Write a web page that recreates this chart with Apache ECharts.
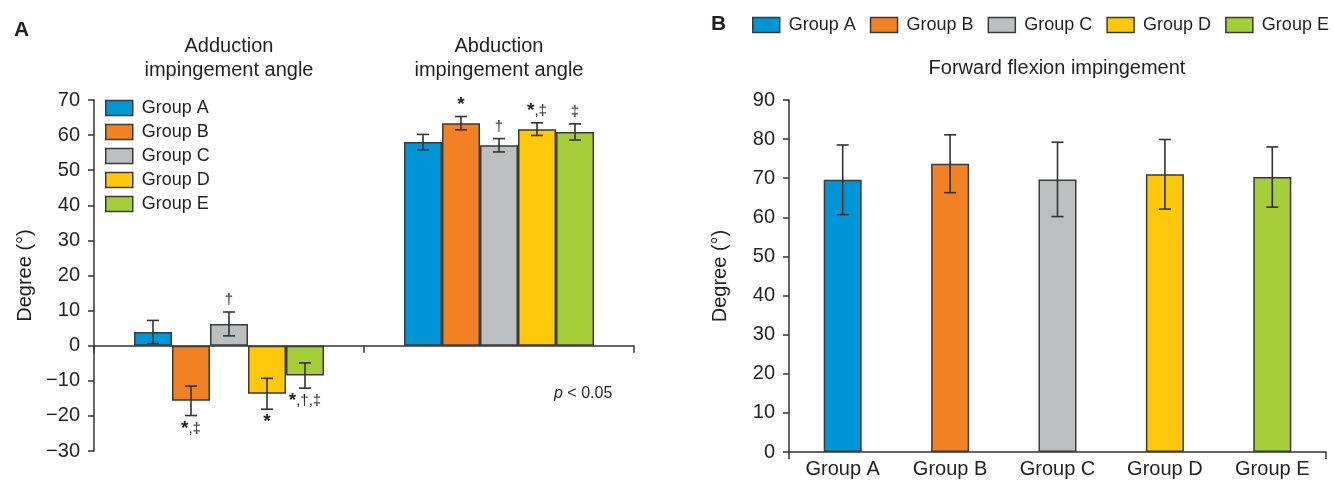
<!DOCTYPE html>
<html><head><meta charset="utf-8">
<script src="https://cdn.jsdelivr.net/npm/echarts@6/dist/echarts.min.js"></script>
<style>html,body{margin:0;padding:0;background:#fff}#c{width:1333px;height:484px}</style>
</head><body><div id="c"></div>
<script>
// ---- data ----
const groups = ['Group A', 'Group B', 'Group C', 'Group D', 'Group E'];
const anglesA = ['Adduction\nimpingement angle', 'Abduction\nimpingement angle'];
const adductionMean = [3.9, -15.7, 6.2, -13.7, -8.5];
const adductionSD = [3.3, 4.2, 3.4, 4.4, 3.6];
const adductionSig = ['', '*,\u2021', '\u2020', '*', '*,\u2020,\u2021'];
const abductionMean = [58.0, 63.4, 57.1, 61.7, 60.9];
const abductionSD = [2.2, 1.9, 1.9, 1.8, 2.3];
const abductionSig = ['', '*', '\u2020', '*,\u2021', '\u2021'];
const flexionMean = [69.6, 73.7, 69.7, 71.0, 70.3];
const flexionSD = [8.9, 7.4, 9.5, 8.9, 7.7];
const yRangeA = { min: -30, max: 70, interval: 10 };
const yRangeB = { min: 0, max: 90, interval: 10 };

// ---- styles ----
const colors = ['#0096D6', '#F28124', '#BCBEC0', '#FFC90B', '#A6CE39'];
const FONT = 'Liberation Sans, Arial, sans-serif';
const TXT = '#231F20';
const LINE = '#333333';
const BAR_W = 38;
const CAP = 12;

const chart = echarts.init(document.getElementById('c'), null, { renderer: 'canvas' });

// error-bar data for panel A: [categoryIndex, groupIndex, mean, sd]
const errAData = [];
const errASig = [];
groups.forEach((g, i) => {
  errAData.push([0, i, adductionMean[i], adductionSD[i]]); errASig.push(adductionSig[i]);
  errAData.push([1, i, abductionMean[i], abductionSD[i]]); errASig.push(abductionSig[i]);
});
const errBData = groups.map((g, i) => [i, flexionMean[i], flexionSD[i]]);

function errorShape(x, yTop, yBot) {
  return [
    { type: 'line', shape: { x1: x, y1: yTop, x2: x, y2: yBot }, style: { stroke: LINE, lineWidth: 1.6 } },
    { type: 'line', shape: { x1: x - CAP / 2, y1: yTop, x2: x + CAP / 2, y2: yTop }, style: { stroke: LINE, lineWidth: 1.6 } },
    { type: 'line', shape: { x1: x - CAP / 2, y1: yBot, x2: x + CAP / 2, y2: yBot }, style: { stroke: LINE, lineWidth: 1.6 } }
  ];
}

function richSig(s) {
  return s.split('').map(ch => ch === '*' ? '{a|*}' : '{d|' + ch + '}').join('');
}

function renderErrA(params, api) {
  const cat = api.value(0), g = api.value(1), m = api.value(2), sd = api.value(3);
  const top = api.coord([cat, m + sd]);
  const bot = api.coord([cat, m - sd]);
  const x = top[0] + (g - (groups.length - 1) / 2) * BAR_W;
  const children = errorShape(x, top[1], bot[1]);
  const sig = errASig[params.dataIndex];
  if (sig) {
    const up = m >= 0;
    children.push({
      type: 'text', x: x, y: up ? top[1] - 3 : bot[1] + 4,
      style: {
        text: richSig(sig), fill: TXT, fontFamily: FONT, align: 'center',
        verticalAlign: up ? 'bottom' : 'top',
        rich: {
          a: { fontSize: 19, fontWeight: 'bold', fill: TXT, fontFamily: FONT, lineHeight: 18 },
          d: { fontSize: 15, fill: TXT, fontFamily: FONT, lineHeight: 18 }
        }
      }
    });
  }
  return { type: 'group', children: children };
}

function renderErrB(params, api) {
  const cat = api.value(0), m = api.value(1), sd = api.value(2);
  const top = api.coord([cat, m + sd]);
  const bot = api.coord([cat, m - sd]);
  return { type: 'group', children: errorShape(top[0], top[1], bot[1]) };
}

const barSeries = groups.map((g, i) => ({
  name: g, type: 'bar', xAxisIndex: 0, yAxisIndex: 0,
  barWidth: BAR_W, barGap: '0%',
  itemStyle: { color: colors[i], borderColor: '#3a3a3a', borderWidth: 1.5 },
  data: [adductionMean[i], abductionMean[i]], z: 2
}));

const legendCommon = {
  data: groups, icon: 'rect', itemWidth: 27, itemHeight: 15, selectedMode: false,
  textStyle: { fontSize: 18, fontFamily: FONT, color: TXT, lineHeight: 18, padding: [0, 0, 0, 4] },
  itemStyle: { borderColor: '#3a3a3a', borderWidth: 1.5 }
};

const yAxisCommon = {
  type: 'value',
  axisLine: { show: true, lineStyle: { color: LINE, width: 1.5 } },
  axisTick: { show: true, length: 6, lineStyle: { color: LINE, width: 1.5 } },
  splitLine: { show: false },
  axisLabel: { fontSize: 20, fontFamily: FONT, color: TXT, margin: 14,
    formatter: v => (v < 0 ? '\u2212' + Math.abs(v) : String(v)) },
  name: 'Degree (\u00b0)', nameLocation: 'middle', nameGap: 59,
  nameTextStyle: { fontSize: 20, fontFamily: FONT, color: TXT }
};

const option = {
  backgroundColor: '#ffffff',
  animation: false,
  textStyle: { fontFamily: FONT },
  title: [
    { text: 'A', left: 14, top: 20, padding: 0, textStyle: { fontSize: 21, fontWeight: 'bold', color: TXT, fontFamily: FONT } },
    { text: 'B', left: 711, top: 14, padding: 0, textStyle: { fontSize: 21, fontWeight: 'bold', color: TXT, fontFamily: FONT } },
    { text: 'Forward flexion impingement', left: 1057, textAlign: 'center', top: 58, padding: 0,
      textStyle: { fontSize: 20, fontWeight: 'normal', color: TXT, fontFamily: FONT } },
    { text: '{i|p} < 0.05', left: 554, top: 386, padding: 0,
      textStyle: { fontSize: 16, fontWeight: 'normal', color: TXT, fontFamily: FONT,
        rich: { i: { fontStyle: 'italic', fontSize: 16, color: TXT, fontFamily: FONT } } } }
  ],
  legend: [
    Object.assign({}, legendCommon, { orient: 'vertical', left: 105, top: 99, itemGap: 6, padding: 0 }),
    Object.assign({}, legendCommon, { orient: 'horizontal', left: 752, top: 16, width: 600, itemGap: 14, padding: 0 })
  ],
  grid: [
    { left: 94, right: 699, top: 100, bottom: 33, containLabel: false },
    { left: 789, right: 7, top: 100, bottom: 32, containLabel: false }
  ],
  xAxis: [
    { type: 'category', gridIndex: 0, data: anglesA, position: 'bottom',
      axisLine: { show: true, onZero: true, lineStyle: { color: LINE, width: 1.5 } },
      axisTick: { show: true, length: 7, lineStyle: { color: LINE, width: 1.5 } },
      axisLabel: { show: false } },
    { type: 'category', gridIndex: 0, data: anglesA, position: 'top',
      axisLine: { show: false, onZero: false }, axisTick: { show: false },
      axisLabel: { show: true, margin: 18, fontSize: 20, lineHeight: 24, fontFamily: FONT, color: TXT } },
    { type: 'category', gridIndex: 1, data: groups,
      axisLine: { show: true, lineStyle: { color: LINE, width: 1.5 } },
      axisTick: { show: true, length: 7, interval: (i) => i === 0, lineStyle: { color: LINE, width: 1.5 } },
      axisLabel: { fontSize: 20, fontFamily: FONT, color: TXT, margin: 7, interval: 0 } }
  ],
  yAxis: [
    Object.assign({}, yAxisCommon, { gridIndex: 0 }, yRangeA),
    Object.assign({}, yAxisCommon, { gridIndex: 1 }, yRangeB)
  ],
  series: barSeries.concat([
    { type: 'custom', name: 'errA', xAxisIndex: 0, yAxisIndex: 0, renderItem: renderErrA,
      data: errAData, z: 5, clip: false, silent: true },
    { type: 'bar', name: 'Forward flexion', xAxisIndex: 2, yAxisIndex: 1, barWidth: BAR_W,
      data: flexionMean.map((v, i) => ({ value: v, itemStyle: { color: colors[i] } })),
      itemStyle: { borderColor: '#3a3a3a', borderWidth: 1.5 }, z: 2 },
    { type: 'custom', name: 'errB', xAxisIndex: 2, yAxisIndex: 1, renderItem: renderErrB,
      data: errBData, z: 5, clip: false, silent: true }
  ])
};
chart.setOption(option);
</script>
</body></html>
